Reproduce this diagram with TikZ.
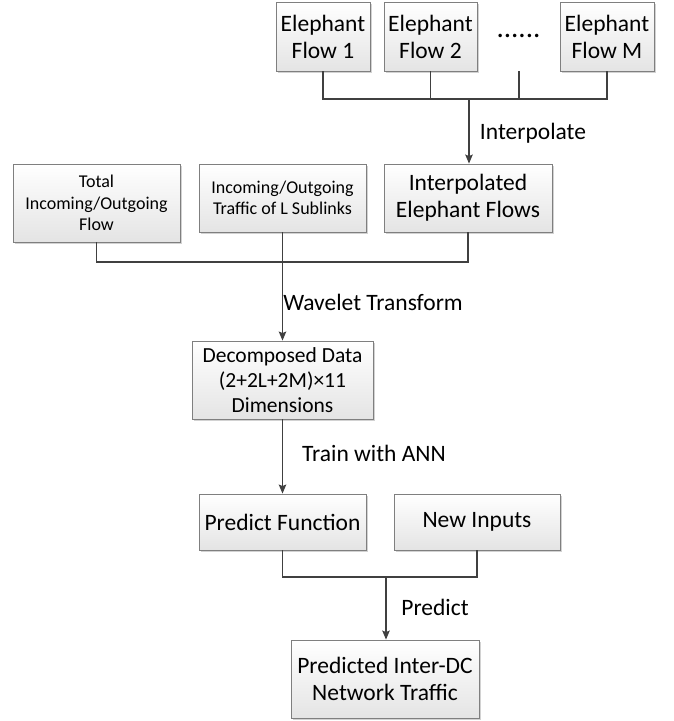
\documentclass[tikz,border=0pt]{standalone}
\usepackage{fontspec}
\setmainfont{Carlito}
\usetikzlibrary{shadows,arrows.meta}
\definecolor{boxborder}{HTML}{7F7F7F}
\definecolor{boxbot}{HTML}{E4E4E4}
\definecolor{linecol}{HTML}{404040}
\begin{document}
\begin{tikzpicture}[x=1pt,y=-1pt,
  box/.style={draw=boxborder, line width=0.9pt, top color=white, bottom color=boxbot,
    drop shadow={shadow xshift=1.6pt, shadow yshift=-1.6pt, fill=black!35},
    align=center, inner sep=0pt, font=\fontsize{23.5}{27}\selectfont},
  smalltext/.style={font=\fontsize{18}{21.5}\selectfont},
  midtext/.style={font=\fontsize{21.5}{25}\selectfont},
  lbl/.style={font=\fontsize{23.5}{27}\selectfont, inner sep=0pt},
  conn/.style={draw=linecol, line width=1.1pt},
  arr/.style={conn, -{Stealth[length=9pt,width=7.5pt,inset=1.5pt]}}]
\useasboundingbox (0,0) rectangle (673,721);
% top row
\node[box, minimum width=94, minimum height=69] (f1) at (323,36.5) {Elephant\\Flow 1};
\node[box, minimum width=93, minimum height=69] (f2) at (430.5,36.5) {Elephant\\Flow 2};
\node[lbl, font=\fontsize{29}{30}\selectfont] (dots) at (518.5,36) {......};
\node[box, minimum width=94, minimum height=69] (fM) at (607,36.5) {Elephant\\Flow M};
\coordinate (ds) at (519,71);
\coordinate (b1) at (469,99);
% second row
\node[box, smalltext, minimum width=167, minimum height=78] (total) at (96.5,203) {Total\\Incoming/Outgoing\\Flow};
\node[box, smalltext, minimum width=167, minimum height=68] (sub) at (282.5,198) {Incoming/Outgoing\\Traffic of L Sublinks};
\node[box, minimum width=168, minimum height=68] (interp) at (468,198) {Interpolated\\Elephant Flows};
\coordinate (b2) at (282.5,262);
% decomposed
\node[box, midtext, minimum width=181, minimum height=78] (dec) at (282.5,380) {Decomposed Data\\(2+2L+2M)×11\\Dimensions};
% predict row
\node[box, minimum width=167, minimum height=56] (pf) at (282.5,522) {Predict Function};
\node[box, minimum width=166, minimum height=56] (ni) at (477,522) {New Inputs};
\coordinate (b3) at (386,577);
\node[box, minimum width=188, minimum height=78] (pr) at (385,679) {Predicted Inter-DC\\Network Traffic};
% connectors
\draw[conn] (f1.south) |- (b1) -| (fM.south);
\draw[conn] (f2.south) -- (f2.south |- b1);
\draw[conn] (ds) -- (ds |- b1);
\draw[arr] (b1) -- (b1 |- interp.north);
\node[lbl] (l1) at (533,133) {Interpolate};
\draw[conn] (total.south) |- (b2) -| (interp.south);
\draw[arr] (sub.south) -- (dec.north);
\node[lbl] (l2) at (373,302) {Wavelet Transform};
\draw[arr] (dec.south) -- (pf.north);
\node[lbl] (l3) at (374,453) {Train with ANN};
\draw[conn] (pf.south) |- (b3) -| (ni.south);
\draw[arr] (b3) -- (b3 |- pr.north);
\node[lbl] (l4) at (435,607) {Predict};
\end{tikzpicture}
\end{document}
